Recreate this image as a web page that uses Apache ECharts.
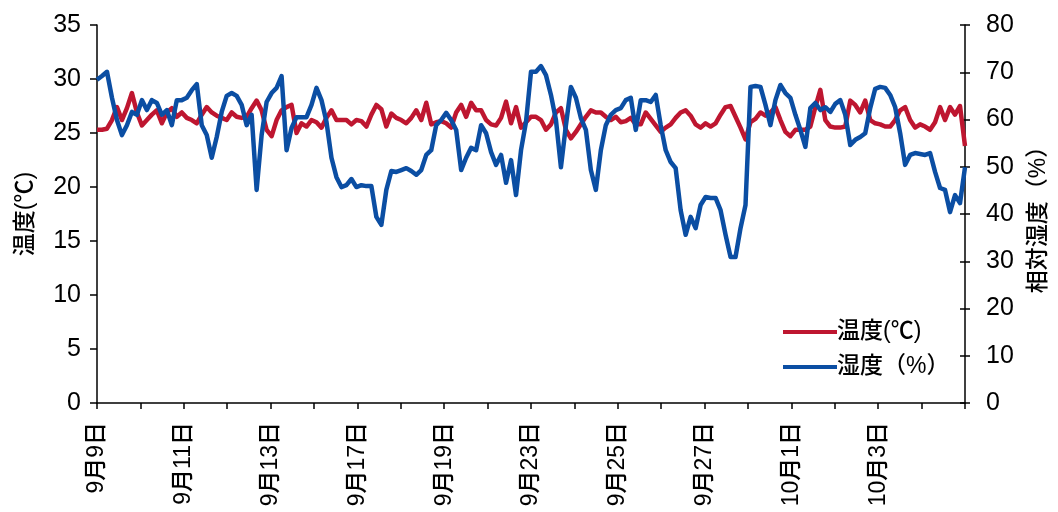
<!DOCTYPE html>
<html>
<head>
<meta charset="utf-8">
<script src="https://cdn.jsdelivr.net/npm/echarts@6/dist/echarts.min.js"></script>
<style>
html,body{margin:0;padding:0;background:#fff;}
#c{width:1058px;height:512px;}
</style>
</head>
<body>
<div id="c"></div>
<script>
// ---- data ----
const tickLabels = ['9月9日','9月11日','9月13日','9月17日','9月19日','9月23日','9月25日','9月27日','10月1日','10月3日'];
const tickCount = 21; // tick marks along x axis (labels on every other one)

const tempName = '温度(℃)';
const humidName = '湿度（%）';

const tempValues = [
25.3,25.3,25.4,26.2,27.4,26.2,27.3,28.7,26.9,25.7,
26.2,26.7,27.1,25.9,26.9,27.3,26.5,26.9,26.4,26.2,
25.9,26.7,27.4,26.9,26.6,26.4,26.2,26.9,26.5,26.4,
26.5,27.3,28.0,27.1,25.3,24.7,26.2,27.1,27.4,27.6,
25.0,25.9,25.6,26.2,26.0,25.5,26.4,27.1,26.2,26.2,
26.2,25.8,26.2,26.1,25.6,26.7,27.6,27.2,25.6,26.8,
26.4,26.2,25.9,26.4,27.1,26.2,27.8,25.8,26.0,26.1,
25.9,25.5,26.9,27.6,26.5,27.8,27.1,27.1,26.2,25.8,
25.7,26.4,27.9,25.9,27.4,25.5,26.0,26.5,26.5,26.2,
25.3,25.8,26.9,27.3,25.3,24.5,25.1,25.8,26.5,27.1,
26.9,26.9,26.5,26.2,26.5,26.0,26.1,26.4,25.8,25.8,
26.9,26.3,25.7,25.1,25.5,25.8,26.4,26.9,27.1,26.6,
25.8,25.5,25.9,25.6,25.9,26.7,27.4,27.5,26.5,25.5,
24.4,26.0,26.3,26.9,26.6,26.9,27.4,26.2,25.1,24.7,
25.3,25.3,25.3,25.6,27.4,29.0,26.2,25.6,25.5,25.5,
25.6,28.0,27.6,26.9,28.0,26.2,25.9,25.8,25.6,25.6,
26.2,27.1,27.4,26.2,25.5,25.8,25.6,25.3,26.0,27.4,
26.2,27.4,26.7,27.5,23.8
];

const humidValues = [
68.4,69.2,70.1,64.6,59.9,56.7,58.8,61.6,61.0,64.1,
62.0,64.1,63.5,61.0,62.0,58.8,64.1,64.1,64.6,66.2,
67.5,58.8,56.7,51.9,56.3,61.6,65.0,65.6,65.0,63.1,
58.8,61.0,45.1,56.7,63.7,65.6,66.7,69.2,53.5,58.2,
60.5,60.5,60.5,63.1,66.7,64.1,59.5,51.9,47.8,45.7,
46.1,47.4,45.7,46.1,45.9,45.9,39.4,37.7,45.1,49.1,
48.9,49.3,49.7,49.1,48.3,49.3,52.5,53.5,58.8,59.9,
61.4,59.9,57.8,49.3,51.9,54.0,53.5,58.8,57.1,53.1,
50.4,52.5,46.6,51.4,44.0,53.5,59.5,70.1,70.1,71.3,
69.4,65.2,59.9,49.9,58.8,66.9,64.6,60.3,57.8,49.3,
45.1,53.5,58.8,61.0,62.0,62.4,64.1,64.6,57.8,64.1,
64.1,63.7,65.2,58.8,53.5,51.0,49.7,40.8,35.6,39.4,
37.0,41.9,43.6,43.4,43.4,40.8,35.6,30.9,30.9,37.0,
41.9,66.9,67.1,66.9,63.1,58.8,64.1,67.3,65.6,64.6,
61.0,57.8,54.2,62.4,63.5,62.0,62.6,61.6,63.3,64.1,
61.0,54.6,55.7,56.3,57.1,62.4,66.5,66.9,66.7,65.2,
62.6,57.1,50.4,52.5,52.9,52.7,52.5,52.9,48.9,45.5,
45.1,40.4,44.0,42.3,49.9
];

// ---- chart ----
const FONT = "'Liberation Sans','Noto Sans CJK JP',sans-serif";
const RED = '#BE1630';
const BLUE = '#0B4EA3';

const tickCats = [];
for (let i = 0; i < tickCount; i++) tickCats.push('t' + i);
const sampleCats = tempValues.map((_, i) => i);

const chart = echarts.init(document.getElementById('c'), null, {renderer: 'canvas'});
const axisLine = {show: true, lineStyle: {color: '#000', width: 1.5}};

chart.setOption({
  animation: false,
  backgroundColor: '#fff',
  textStyle: {fontFamily: FONT, color: '#000'},
  grid: {left: 97, right: 93, top: 25, bottom: 109},
  legend: {
    orient: 'vertical', left: 778, top: 315,
    itemWidth: 54, itemHeight: 4, itemGap: 11, icon: 'rect',
    textStyle: {fontFamily: FONT, fontSize: 23, fontWeight: 500, color: '#000', lineHeight: 24, padding: [0, 0, 0, -5]},
    data: [tempName, humidName]
  },
  xAxis: [
    {
      type: 'category', data: tickCats, boundaryGap: false,
      axisLine: axisLine,
      axisTick: {show: true, interval: 0, length: 6, lineStyle: {color: '#000', width: 1.5}},
      axisLabel: {
        interval: 0, rotate: 90, margin: 19,
        fontFamily: FONT, fontSize: 23, fontWeight: 500, color: '#000',
        formatter: (v, idx) => (idx % 2 === 0 && tickLabels[idx / 2]) ? tickLabels[idx / 2] : ''
      },
      splitLine: {show: false}
    },
    {
      type: 'category', data: sampleCats, boundaryGap: false, show: false
    }
  ],
  yAxis: [
    {
      type: 'value', min: 0, max: 35, interval: 5, position: 'left',
      name: '温度(℃)', nameLocation: 'middle', nameGap: 60, nameRotate: 90,
      nameTextStyle: {fontFamily: FONT, fontSize: 23, fontWeight: 500, color: '#000'},
      axisLine: axisLine,
      axisTick: {show: true, length: 7, lineStyle: {color: '#000', width: 1.5}},
      axisLabel: {fontFamily: FONT, fontSize: 25, color: '#000', margin: 16},
      splitLine: {show: false}
    },
    {
      type: 'value', min: 0, max: 80, interval: 10, position: 'right',
      name: '相対湿度（%）', nameLocation: 'middle', nameGap: 62, nameRotate: 90,
      nameTextStyle: {fontFamily: FONT, fontSize: 23, fontWeight: 500, color: '#000'},
      axisLine: axisLine,
      axisTick: {show: true, length: 5, lineStyle: {color: '#000', width: 1.5}},
      axisLabel: {fontFamily: FONT, fontSize: 25, color: '#000', margin: 21},
      splitLine: {show: false}
    },
    {
      type: 'value', min: 0, max: 80, interval: 10, position: 'right',
      axisLine: {show: false},
      axisTick: {show: true, inside: true, length: 5, lineStyle: {color: '#000', width: 1.5}},
      axisLabel: {show: false},
      splitLine: {show: false}
    }
  ],
  series: [
    {
      name: tempName, type: 'line', xAxisIndex: 1, yAxisIndex: 0,
      data: tempValues, showSymbol: false, symbol: 'none', smooth: false,
      lineStyle: {color: RED, width: 4.5, join: 'round'}, itemStyle: {color: RED}, z: 2
    },
    {
      name: humidName, type: 'line', xAxisIndex: 1, yAxisIndex: 1,
      data: humidValues, showSymbol: false, symbol: 'none', smooth: false,
      lineStyle: {color: BLUE, width: 4.5, join: 'round'}, itemStyle: {color: BLUE}, z: 3
    }
  ]
});
</script>
</body>
</html>
